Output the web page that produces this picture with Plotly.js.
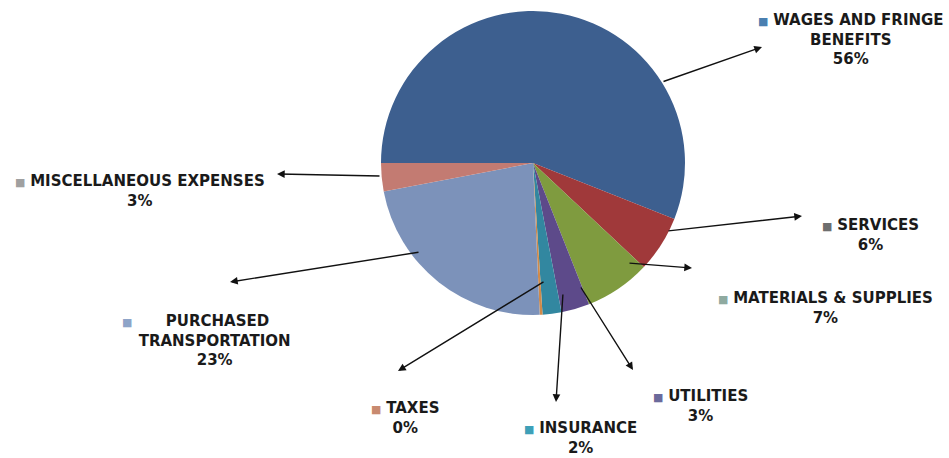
<!DOCTYPE html>
<html>
<head>
<meta charset="utf-8">
<script src="https://cdn.plot.ly/plotly-3.0.1.min.js"></script>
<style>html,body{margin:0;padding:0;background:#fff;}#chart{width:949px;height:458px;}</style>
</head>
<body>
<div id="chart"></div>
<script>
// ---- data ----
const categories = ["WAGES AND FRINGE BENEFITS","SERVICES","MATERIALS & SUPPLIES","UTILITIES","INSURANCE","TAXES","PURCHASED TRANSPORTATION","MISCELLANEOUS EXPENSES"];
const values = [56, 6, 7, 3, 2, 0.3, 22.7, 3];
const pctLabels = ["56%","6%","7%","3%","2%","0%","23%","3%"];
const labelLines = [
  ["WAGES AND FRINGE","BENEFITS"],
  ["SERVICES"],
  ["MATERIALS & SUPPLIES"],
  ["UTILITIES"],
  ["INSURANCE"],
  ["TAXES"],
  ["PURCHASED","TRANSPORTATION"],
  ["MISCELLANEOUS EXPENSES"]
];
const sliceColors = ["#3D5F8F","#A0393A","#7F9B3F","#5D4A8A","#3287A0","#D08A4A","#7C92BA","#C37B72"];
const markerColors = ["#4A7FB0","#6E6E6E","#8FAAA0","#6B6A9B","#3EA0B8","#C88A70","#8EA4C8","#A0A0A0"];

// ---- layout helpers (pixel positions of labels / arrows) ----
const W = 949, H = 458;
const px = x => x / W, py = y => 1 - y / H;
const labelPos = [[851,40],[870,235],[825,308],[700,406],[580,438],[405,418],[214,340],[140,191]];
const markerGap = [" "," "," "," "," "," ","\u00A0".repeat(7)," "];
const markerTail = ["","","","","","","\u00A0".repeat(8),""];
const arrows = [ // [tailX, tailY, headX, headY]
  [662,82,762,47],[667,231,802,216],[628,263,692,268],[580,286,633,370],
  [563,293,556,402],[545,281,398,371],[420,252,230,282],[381,176,277,174]
];

const annotations = [];
categories.forEach((c, i) => {
  const lines = labelLines[i].map(s => "<b>" + s + "</b>");
  lines[0] = '<span style="color:' + markerColors[i] + ';font-size:11px">■</span>' + markerGap[i] + lines[0] + markerTail[i];
  lines.push("<b>" + pctLabels[i] + "</b>");
  annotations.push({
    x: px(labelPos[i][0]), y: py(labelPos[i][1]), xref: "paper", yref: "paper",
    xanchor: "center", yanchor: "middle", align: "center", showarrow: false,
    text: lines.join("<br>"),
    font: {family: "DejaVu Sans", size: 15, color: "#1a1a1a"}
  });
});
arrows.forEach(a => {
  annotations.push({
    x: px(a[2]), y: py(a[3]), xref: "paper", yref: "paper",
    ax: a[0] - a[2], ay: a[1] - a[3], axref: "pixel", ayref: "pixel",
    text: "", showarrow: true, arrowhead: 2, arrowsize: 1.1, arrowwidth: 1.4, arrowcolor: "#111"
  });
});

const trace = {
  type: "pie", labels: categories, values: values, sort: false,
  direction: "clockwise", rotation: -90, textinfo: "none", hoverinfo: "label+percent",
  marker: {colors: sliceColors, line: {width: 0}},
  domain: {x: [px(381), px(685)], y: [py(315), py(11)]},
  showlegend: false
};

Plotly.newPlot("chart", [trace], {
  width: W, height: H, margin: {l: 0, r: 0, t: 0, b: 0},
  paper_bgcolor: "#fff", plot_bgcolor: "#fff", showlegend: false,
  annotations: annotations
}, {displayModeBar: false, staticPlot: true});
</script>
</body>
</html>
